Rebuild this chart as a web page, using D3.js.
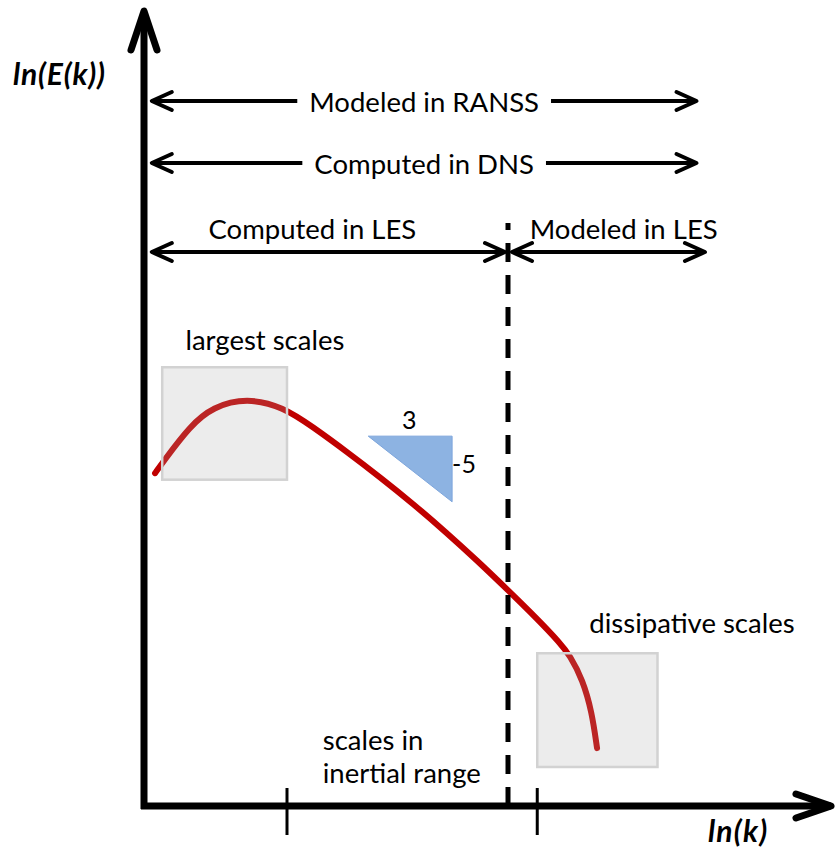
<!DOCTYPE html>
<html>
<head>
<meta charset="utf-8">
<script src="https://cdn.jsdelivr.net/npm/d3@7"></script>
<style>
  html, body { margin: 0; padding: 0; background: #fff; }
  svg { display: block; }
  text { font-family: Lato, "Open Sans", sans-serif; fill: #000; }
</style>
</head>
<body>
<svg id="chart" width="835" height="852"></svg>
<script>
// Energy spectrum sketch: ln(E) against ln(k)
const spectrumLnK = [0.17, 0.29, 0.71, 1.06, 1.58, 2.14, 2.60, 3.12, 3.63, 4.14, 4.66, 5.12, 5.58, 6.05, 6.40, 6.55, 6.75, 6.89, 6.97];
const spectrumLnE = [5.12, 5.29, 5.85, 6.14, 6.28, 6.14, 5.83, 5.45, 5.06, 4.65, 4.20, 3.78, 3.34, 2.88, 2.51, 2.32, 1.94, 1.45, 0.89];

// Marked wavenumbers on the ln(k) axis and the LES filter cutoff
const axisTicks = [2.2, 6.05];
const cutoffLnK = 5.6;

// Ranges of scales resolved/modelled by each approach
const rangeLabels = ["Modeled in RANSS", "Computed in DNS", "Computed in LES", "Modeled in LES"];
const rangeStart  = [0.12, 0.12, 0.12, 5.6];
const rangeEnd    = [8.5, 8.5, 5.6, 8.63];

// Highlighted regions of the spectrum
const regionLabels = ["largest scales", "dissipative scales"];
const regionK0 = [0.28, 6.05];
const regionK1 = [2.2, 7.9];
const regionE0 = [5.02, 0.6];
const regionE1 = [6.75, 2.35];

// Slope triangle
const slopeK = [3.45, 4.74];
const slopeE = [5.69, 4.68];
const slopeLabels = ["3", "-5"];

const svg = d3.select("#chart");
const x = d3.scaleLinear().domain([0, 10]).range([144, 794]);
const y = d3.scaleLinear().domain([0, 10]).range([806, 156]);

const ink = "#000";
const x0 = x(0), y0 = y(0);
const fs = 27.5;

// Open chevron arrowhead
function chevron(g, tipX, tipY, dir, back, spread, width) {
  const [dx, dy] = dir;
  const px = -dy, py = dx;
  const bx = tipX - dx * back, by = tipY - dy * back;
  g.append("path")
    .attr("d", `M${bx + px * spread},${by + py * spread}L${tipX},${tipY}L${bx - px * spread},${by - py * spread}`)
    .attr("fill", "none").attr("stroke", ink)
    .attr("stroke-width", width).attr("stroke-linecap", "round").attr("stroke-linejoin", "round");
}

// Spectrum curve
const pts = spectrumLnK.map((k, i) => [k, spectrumLnE[i]]);
const line = d3.line().x(d => x(d[0])).y(d => y(d[1])).curve(d3.curveBasis);
svg.append("path").attr("d", line(pts))
  .attr("fill", "none").attr("stroke", "#c00000").attr("stroke-width", 6)
  .attr("stroke-linecap", "round");

// Translucent region boxes laid over the curve
regionLabels.forEach((lab, i) => {
  svg.append("rect")
    .attr("x", x(regionK0[i])).attr("y", y(regionE1[i]))
    .attr("width", x(regionK1[i]) - x(regionK0[i]))
    .attr("height", y(regionE0[i]) - y(regionE1[i]))
    .attr("fill", "#aaaaaa").attr("fill-opacity", 0.22)
    .attr("stroke", "#d2d2d2").attr("stroke-width", 2.5);
});

svg.append("text").attr("x", x(1.86)).attr("y", 350)
  .attr("text-anchor", "middle").attr("font-size", fs).text(regionLabels[0]);
svg.append("text").attr("x", x(8.43)).attr("y", 633)
  .attr("text-anchor", "middle").attr("font-size", fs).text(regionLabels[1]);

const inertial = svg.append("text").attr("x", x(2.75)).attr("font-size", fs);
inertial.append("tspan").attr("x", x(2.75)).attr("y", 750).text("scales in");
inertial.append("tspan").attr("x", x(2.75)).attr("y", 783).text("inertial range");

// Slope triangle
svg.append("path")
  .attr("d", `M${x(slopeK[0])},${y(slopeE[0])}L${x(slopeK[1])},${y(slopeE[0])}L${x(slopeK[1])},${y(slopeE[1])}Z`)
  .attr("fill", "#8db3e2").attr("stroke", "#7ea6dc").attr("stroke-width", 1);
svg.append("text").attr("x", (x(slopeK[0]) + x(slopeK[1])) / 2 - 1).attr("y", y(slopeE[0]) - 7)
  .attr("text-anchor", "middle").attr("font-size", 25).text(slopeLabels[0]);
svg.append("text").attr("x", x(slopeK[1])).attr("y", (y(slopeE[0]) + y(slopeE[1])) / 2 + 4)
  .attr("font-size", 25).text(slopeLabels[1]);

// Dashed LES cutoff
svg.append("line")
  .attr("x1", x(cutoffLnK)).attr("x2", x(cutoffLnK))
  .attr("y1", y0).attr("y2", 223)
  .attr("stroke", ink).attr("stroke-width", 5).attr("stroke-dasharray", "19,13");

// Range arrows
const rowY = [101, 163, 252, 252];
const labelY = [101, 163, 228, 228];
const labelX = [null, null, x(2.59), x(7.38)];
rangeLabels.forEach((lab, i) => {
  const g = svg.append("g");
  let a = x(rangeStart[i]), b = x(rangeEnd[i]);
  if (i === 2) b -= 3;
  if (i === 3) a += 4;
  g.append("line").attr("x1", a).attr("x2", b).attr("y1", rowY[i]).attr("y2", rowY[i])
    .attr("stroke", ink).attr("stroke-width", 4);
  chevron(g, a, rowY[i], [-1, 0], 20, 9, 4);
  chevron(g, b, rowY[i], [1, 0], 20, 9, 4);
  const inline = labelY[i] === rowY[i];
  const cx = labelX[i] !== null ? labelX[i] : (a + b) / 2;
  const t = g.append("text").attr("x", cx).attr("y", labelY[i])
    .attr("text-anchor", "middle").attr("dominant-baseline", "central")
    .attr("font-size", fs).text(lab);
  if (inline) {
    const bb = t.node().getBBox();
    g.insert("rect", "text").attr("x", bb.x - 12).attr("y", bb.y)
      .attr("width", bb.width + 24).attr("height", bb.height).attr("fill", "#fff");
  }
});

// Axes
const axes = svg.append("g");
axes.append("line").attr("x1", x0).attr("x2", x0).attr("y1", y0 + 3).attr("y2", 12)
  .attr("stroke", ink).attr("stroke-width", 7);
axes.append("line").attr("x1", x0 - 3).attr("x2", 831).attr("y1", y0).attr("y2", y0)
  .attr("stroke", ink).attr("stroke-width", 7);
chevron(axes, x0, 11, [0, -1], 39, 13, 7);
chevron(axes, 831, y0, [1, 0], 35, 12, 7);

axisTicks.forEach(t => {
  axes.append("line").attr("x1", x(t)).attr("x2", x(t)).attr("y1", 788).attr("y2", 835)
    .attr("stroke", ink).attr("stroke-width", 3);
});

svg.append("text").attr("x", 13).attr("y", 85)
  .attr("font-size", 30).attr("font-weight", "bold").attr("font-style", "italic")
  .attr("letter-spacing", 0.8).text("ln(E(k))");
svg.append("text").attr("x", 708).attr("y", 842)
  .attr("font-size", 30).attr("font-weight", "bold").attr("font-style", "italic")
  .attr("letter-spacing", 1.2).text("ln(k)");
</script>
</body>
</html>
